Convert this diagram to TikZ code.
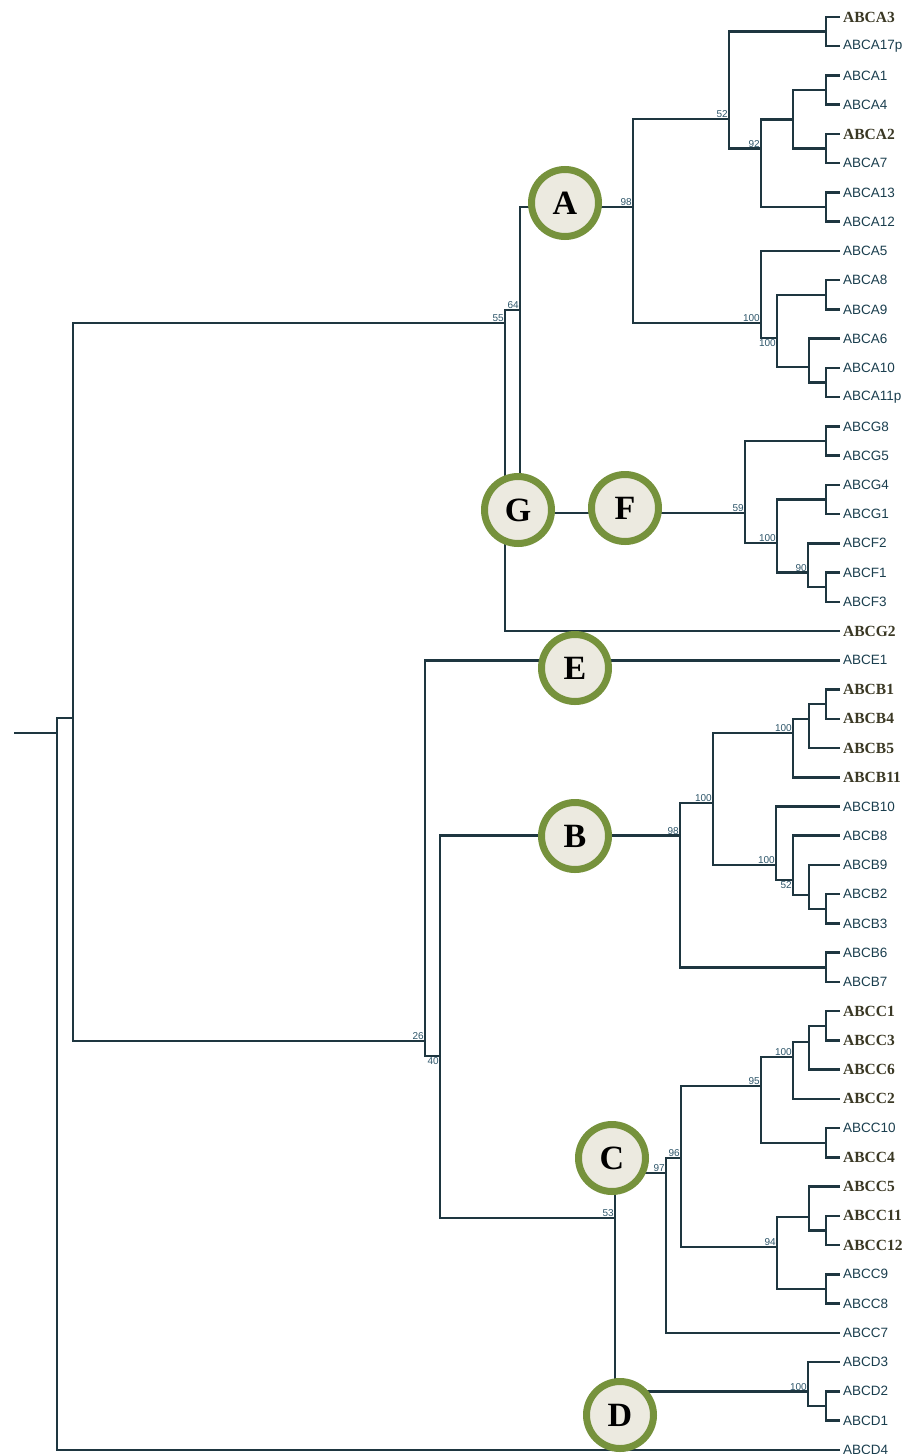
\documentclass[tikz,border=0pt]{standalone}
\usepackage{fontspec}
\setmainfont{Liberation Serif}
\newfontfamily\lblfont{Liberation Sans}
\usetikzlibrary{positioning}
\definecolor{brlc}{RGB}{30,54,64}
\definecolor{lfc}{RGB}{26,62,78}
\definecolor{bldc}{RGB}{58,56,36}
\definecolor{bsc}{RGB}{45,85,105}
\definecolor{ringc}{RGB}{118,146,60}
\definecolor{discc}{RGB}{236,234,224}
\tikzset{
  brl/.style={draw=brlc,line width=2.5pt},                 % tree branch
  lf/.style={anchor=west,inner sep=3pt,text=lfc,font=\lblfont\fontsize{13.5}{14}\selectfont},
  bld/.style={anchor=west,inner sep=3pt,text=bldc,font=\fontsize{15.5}{16}\selectfont\bfseries},
  bs/.style={inner sep=1pt,text=bsc,font=\lblfont\fontsize{10}{10}\selectfont}, % bootstrap value
  clade/.style={circle,draw=ringc,line width=7pt,fill=discc,minimum size=67pt,
    inner sep=0pt,font=\fontsize{34}{34}\selectfont\bfseries},
}
\begin{document}
\begin{tikzpicture}[x=1pt,y=-1pt]
  \useasboundingbox (0,0) rectangle (920,1454);
  % leaves, evenly spaced
  \foreach \nm/\i/\st in {ABCA3/0/bld,ABCA17p/1/lf,ABCA1/2/lf,ABCA4/3/lf,ABCA2/4/bld,
      ABCA7/5/lf,ABCA13/6/lf,ABCA12/7/lf,ABCA5/8/lf,ABCA8/9/lf,ABCA9/10/lf,ABCA6/11/lf,
      ABCA10/12/lf,ABCA11p/13/lf,ABCG8/14/lf,ABCG5/15/lf,ABCG4/16/lf,ABCG1/17/lf,
      ABCF2/18/lf,ABCF1/19/lf,ABCF3/20/lf,ABCG2/21/bld,ABCE1/22/lf,ABCB1/23/bld,
      ABCB4/24/bld,ABCB5/25/bld,ABCB11/26/bld,ABCB10/27/lf,ABCB8/28/lf,ABCB9/29/lf,
      ABCB2/30/lf,ABCB3/31/lf,ABCB6/32/lf,ABCB7/33/lf,ABCC1/34/bld,ABCC3/35/bld,
      ABCC6/36/bld,ABCC2/37/bld,ABCC10/38/lf,ABCC4/39/bld,ABCC5/40/bld,ABCC11/41/bld,
      ABCC12/42/bld,ABCC9/43/lf,ABCC8/44/lf,ABCC7/45/lf,ABCD3/46/lf,ABCD2/47/lf,
      ABCD1/48/lf,ABCD4/49/lf}
    \node[\st] (\nm) at (840,{17+29.24*\i}) {\nm};

  % internal nodes
  \coordinate (stub) at (14,733);
  \coordinate (r0) at (57,733);
  \coordinate (n1) at (73,718);
  \coordinate[label={[bs]above left:55}] (n55) at (505,323);
  \coordinate[label={[bs]above left:64}] (n64) at (520,310);
  \coordinate[label={[bs]above left:98}] (nA) at (633,207);
  \coordinate[label={[bs]above left:52}] (n52) at (729,119);
  \coordinate[label={[bs]above left:92}] (n92) at (761,148.6);
  \coordinate (n793a) at (793,119.4);
  \coordinate[label={[bs]above left:100}] (n100a) at (761,323);
  \coordinate[label={[bs]below left:100}] (n777a) at (777,338);
  \coordinate (n809a) at (809,367);
  \coordinate[label={[bs]above left:59}] (n59) at (745,513);
  \coordinate[label={[bs]above left:100}] (n100g) at (777,543);
  \coordinate[label={[bs]above left:90}] (n90) at (808,572.6);
  \coordinate[label={[bs]above left:26}] (n26) at (425,1041);
  \coordinate[label={[bs]below left:40}] (n40) at (440,1056);
  \coordinate[label={[bs]above left:98}] (n98) at (680,835.7);
  \coordinate[label={[bs]above left:100}] (n100b) at (713,803);
  \coordinate[label={[bs]above left:100}] (n100c) at (793,733);
  \coordinate (n809b) at (809,719);
  \coordinate[label={[bs]above left:100}] (n100d) at (776,865);
  \coordinate[label={[bs]below left:52}] (n52b) at (793,880);
  \coordinate (n809c) at (809,895);
  \coordinate[label={[bs]above left:53}] (n53) at (615,1218);
  \coordinate[label={[bs]above left:97}] (n97) at (666,1173);
  \coordinate[label={[bs]above left:96}] (n96) at (681,1158);
  \coordinate[label={[bs]above left:95}] (n95) at (761,1086);
  \coordinate[label={[bs]above left:100}] (n100e) at (793,1057);
  \coordinate (n809e) at (809,1042);
  \coordinate[label={[bs]above left:94}] (n94) at (777,1247);
  \coordinate (n809d) at (809,1217);
  \coordinate[label={[bs]above left:100}] (nD) at (808,1391.3);
  % sister pairs
  \coordinate (pA3) at (826,31.6);
  \coordinate (pA1) at (826,90.1);
  \coordinate (pA2) at (826,148.6);
  \coordinate (pA13) at (826,207);
  \coordinate (pA8) at (826,294.8);
  \coordinate (pA10) at (826,382.5);
  \coordinate (pG8) at (826,441);
  \coordinate (pG4) at (826,499.5);
  \coordinate (pF1) at (826,587.2);
  \coordinate (pB1) at (826,704.1);
  \coordinate (pB2) at (826,908.8);
  \coordinate (pB6) at (826,967.3);
  \coordinate (pC1) at (826,1025.8);
  \coordinate (pC10) at (826,1142.8);
  \coordinate (pC11) at (826,1230.5);
  \coordinate (pC9) at (826,1289);
  \coordinate (pD2) at (826,1405.9);

  % branches between internal nodes
  \draw[brl] (stub) -- (r0);
  \foreach \p/\c in {r0/n1,n1/n55,n1/n26,n55/n64,n64/nA,n64/n59,nA/n52,nA/n100a,
      n52/pA3,n52/n92,n92/n793a,n92/pA13,n793a/pA1,n793a/pA2,n100a/n777a,
      n777a/pA8,n777a/n809a,n809a/pA10,n59/pG8,n59/n100g,n100g/pG4,n100g/n90,
      n90/pF1,n26/n40,n40/n98,n40/n53,n98/n100b,n98/pB6,n100b/n100c,n100b/n100d,
      n100c/n809b,n809b/pB1,n100d/n52b,n52b/n809c,n809c/pB2,n53/n97,n53/nD,
      n97/n96,n96/n95,n96/n94,n95/n100e,n95/pC10,n100e/n809e,n809e/pC1,
      n94/n809d,n94/pC9,n809d/pC11,nD/pD2}
    \draw[brl] (\p) |- (\c);
  % branches to leaves
  \foreach \p/\c in {r0/ABCD4,n55/ABCG2,n26/ABCE1,pA3/ABCA3,pA3/ABCA17p,pA1/ABCA1,
      pA1/ABCA4,pA2/ABCA2,pA2/ABCA7,pA13/ABCA13,pA13/ABCA12,n100a/ABCA5,pA8/ABCA8,
      pA8/ABCA9,n809a/ABCA6,pA10/ABCA10,pA10/ABCA11p,pG8/ABCG8,pG8/ABCG5,pG4/ABCG4,
      pG4/ABCG1,n90/ABCF2,pF1/ABCF1,pF1/ABCF3,pB1/ABCB1,pB1/ABCB4,n809b/ABCB5,
      n100c/ABCB11,n100d/ABCB10,n52b/ABCB8,n809c/ABCB9,pB2/ABCB2,pB2/ABCB3,
      pB6/ABCB6,pB6/ABCB7,pC1/ABCC1,pC1/ABCC3,n809e/ABCC6,n100e/ABCC2,pC10/ABCC10,
      pC10/ABCC4,n809d/ABCC5,pC11/ABCC11,pC11/ABCC12,pC9/ABCC9,pC9/ABCC8,
      n97/ABCC7,nD/ABCD3,pD2/ABCD2,pD2/ABCD1}
    \draw[brl] (\p) |- (\c.west);

  % clade markers
  \node[clade] (cA) at (565,203) {A};
  \node[clade] (cG) at (518,510) {G};
  \node[clade] (cF) at (625,508) {F};
  \node[clade] (cE) at (575,668) {E};
  \node[clade] (cB) at (575,836) {B};
  \node[clade] (cC) at (612,1158) {C};
  \node[clade] (cD) at (620,1415) {D};
\end{tikzpicture}
\end{document}
